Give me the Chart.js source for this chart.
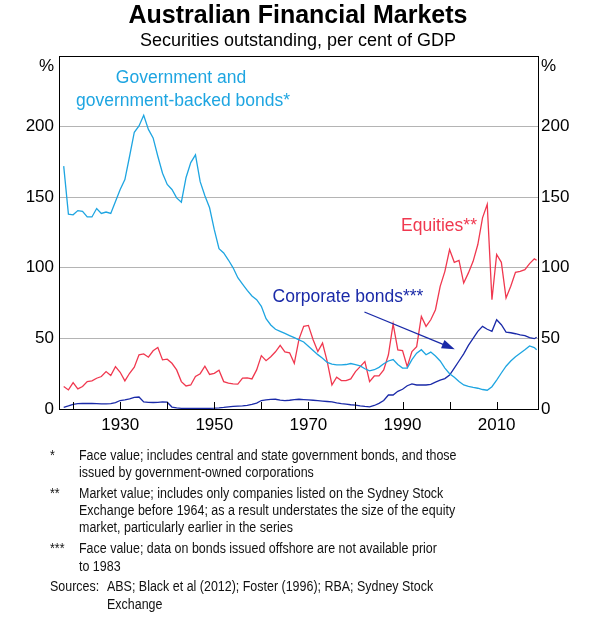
<!DOCTYPE html>
<html>
<head>
<meta charset="utf-8">
<script src="https://cdn.jsdelivr.net/npm/chart.js@4"></script>
<style>
  html, body { margin: 0; padding: 0; background: #fff; }
  #wrap { width: 600px; height: 617px; }
</style>
</head>
<body>
<div id="wrap"><canvas id="chartMercados" width="600" height="617"></canvas></div>
<script>
// Anos (último ponto é parcial)
const anos = [
  1918, 1919,
  1920, 1921, 1922, 1923, 1924, 1925, 1926, 1927, 1928, 1929,
  1930, 1931, 1932, 1933, 1934, 1935, 1936, 1937, 1938, 1939,
  1940, 1941, 1942, 1943, 1944, 1945, 1946, 1947, 1948, 1949,
  1950, 1951, 1952, 1953, 1954, 1955, 1956, 1957, 1958, 1959,
  1960, 1961, 1962, 1963, 1964, 1965, 1966, 1967, 1968, 1969,
  1970, 1971, 1972, 1973, 1974, 1975, 1976, 1977, 1978, 1979,
  1980, 1981, 1982, 1983, 1984, 1985, 1986, 1987, 1988, 1989,
  1990, 1991, 1992, 1993, 1994, 1995, 1996, 1997, 1998, 1999,
  2000, 2001, 2002, 2003, 2004, 2005, 2006, 2007, 2008, 2009,
  2010, 2011, 2012, 2013, 2014, 2015, 2016, 2017, 2018, 2018.5
];

const titulosGoverno = [
  172, 138,
  137.5, 140.5, 140, 136, 136, 142, 138.5, 139.5, 138.5, 147,
  155.5, 162.5, 179, 196, 200.5, 208, 198, 192, 179, 167,
  159, 155.5, 149.5, 146.5, 164, 174.5, 180, 161, 151, 142.5,
  127, 113.5, 110.5, 105.5, 100, 93, 88.5, 84, 80, 77.4,
  72.7, 64, 59.5, 56.5, 55, 53.5, 52, 50.5, 49, 47.5,
  44.5, 41.5, 38.5, 36, 33, 31.8, 31.3, 31.3, 31.5, 32.2,
  31.5, 30.5, 28.5, 27, 27.8, 29.5, 32, 34, 35, 31.5,
  29, 29, 35, 39.5, 42, 38.4, 40.3, 37.5, 34, 29,
  25, 22.5, 19.5, 17, 16, 15.3, 14.7, 13.8, 13.3, 15.8,
  20.5, 25.5, 30.3, 34, 37, 39.5, 42, 44.7, 43.5, 42
];

const acoes = [
  15.9, 13.5,
  18.7, 14.2, 15.9, 19.4, 19.9, 21.8, 23, 26.5, 23.7, 30,
  26, 19.9, 25.3, 29.6, 38.4, 39, 36.7, 41.2, 43.5, 34.8,
  35.3, 32.4, 27.7, 19.4, 16.3, 17, 23, 25, 30.3, 24.5,
  25.3, 27.5, 19.4, 18.3, 17.8, 17.6, 21.8, 22, 21.3, 27.7,
  37.8, 34.2, 37, 40.5, 45, 40.5, 39.8, 32.4, 49.5, 58.5,
  59.2, 49, 40.7, 46.7, 33.6, 17, 22.5, 20.1, 20.1, 21.3,
  26.5, 30, 33.6, 19.4, 23.4, 23.4, 27.7, 38.4, 60.2, 41.9,
  41.4, 30, 40.7, 44.2, 65.6, 58.5, 63.2, 70.3, 86.9, 97.5,
  112.9, 103.9, 105.3, 89.2, 96.4, 104.6, 116.5, 135.4, 144.9, 77.4,
  109.4, 103.9, 78.6, 86.9, 96.8, 97.5, 98.7, 103, 106.3, 105.3
];

const titulosEmpresas = [
  1.2, 2.2,
  3.3, 3.8, 3.9, 4, 3.9, 3.8, 3.6, 3.6, 3.8, 4.5,
  6, 6.5, 7.2, 8.2, 8.5, 5, 4.7, 4.6, 4.7, 5,
  4.8, 1.4, 0.8, 0.5, 0.4, 0.4, 0.4, 0.4, 0.4, 0.5,
  0.6, 0.8, 1.1, 1.5, 1.8, 2, 2.2, 2.6, 3.2, 4.2,
  6, 6.4, 6.8, 6.9, 6.3, 6, 6.2, 6.6, 6.9, 6.7,
  6.5, 6.2, 5.9, 5.6, 5.3, 5, 4.3, 3.8, 3.4, 3,
  2.7, 2.2, 1.8, 1.5, 2.5, 4, 6, 9.9, 9.9, 12.5,
  14, 16.5, 17.8, 17, 17, 17, 17.5, 19, 20.5, 21.5,
  24, 29, 34, 39, 45, 50, 55, 58.5, 56.5, 55,
  63.2, 59.7, 54.5, 54, 53.3, 52.5, 52, 50.5, 49.8, 50.8
];

const ticksAnos = [1920, 1930, 1940, 1950, 1960, 1970, 1980, 1990, 2000, 2010];
const ticksPct = [0, 50, 100, 150, 200, 250];

const notas = [
  ['*', ['Face value; includes central and state government bonds, and those',
         'issued by government-owned corporations']],
  ['**', ['Market value; includes only companies listed on the Sydney Stock',
          'Exchange before 1964; as a result understates the size of the equity',
          'market, particularly earlier in the series']],
  ['***', ['Face value; data on bonds issued offshore are not available prior',
           'to 1983']]
];

const corGoverno = '#1ea5e1';
const corAcoes = '#f0384f';
const corEmpresas = '#1a2aa8';
const fonte = 'Arial, "Liberation Sans", sans-serif';

function pontos(valores) {
  return anos.map((a, i) => ({ x: a, y: valores[i] }));
}

// texto estreito (rodapé)
function textoEstreito(ctx, txt, x, y) {
  ctx.save();
  ctx.translate(x, y);
  ctx.scale(0.89, 1);
  ctx.fillText(txt, 0, 0);
  ctx.restore();
}

Chart.defaults.font.family = fonte;
Chart.defaults.color = '#000';

const extras = {
  id: 'extras',
  afterDraw(chart) {
    const ctx = chart.ctx;
    const a = chart.chartArea;
    const sx = chart.scales.x;
    const sy = chart.scales.y;
    ctx.save();

    // moldura
    ctx.strokeStyle = '#000';
    ctx.lineWidth = 1;
    ctx.strokeRect(a.left + 0.5, a.top + 0.5, a.right - a.left - 1, a.bottom - a.top);

    // marcas do eixo x (para dentro)
    ticksAnos.forEach(v => {
      const px = Math.round(sx.getPixelForValue(v)) + 0.5;
      ctx.beginPath();
      ctx.moveTo(px, a.bottom);
      ctx.lineTo(px, a.bottom - 7);
      ctx.stroke();
    });

    ctx.fillStyle = '#000';
    ctx.textBaseline = 'middle';
    ctx.font = '17px ' + fonte;
    ctx.textAlign = 'right';
    ctx.fillText('%', a.left - 5, 66);
    ctx.textAlign = 'left';
    ctx.fillText('%', a.right + 2, 66);

    // títulos
    ctx.textAlign = 'center';
    ctx.font = 'bold 25px ' + fonte;
    ctx.fillText('Australian Financial Markets', 298, 16);
    ctx.font = '18px ' + fonte;
    ctx.fillText('Securities outstanding, per cent of GDP', 298, 41);

    // rótulos das séries
    ctx.font = '17.5px ' + fonte;
    ctx.fillStyle = corGoverno;
    ctx.fillText('Government and', 181, 78);
    ctx.fillText('government-backed bonds*', 183, 101);
    ctx.fillStyle = corAcoes;
    ctx.fillText('Equities**', 439, 226);
    ctx.fillStyle = corEmpresas;
    ctx.fillText('Corporate bonds***', 348, 297);

    // seta
    const x0 = sx.getPixelForValue(1981.9), y0 = sy.getPixelForValue(68.7);
    const x1 = sx.getPixelForValue(2001.1), y1 = sy.getPixelForValue(42.4);
    const ang = Math.atan2(y1 - y0, x1 - x0);
    ctx.strokeStyle = corEmpresas;
    ctx.lineWidth = 1.3;
    ctx.beginPath();
    ctx.moveTo(x0, y0);
    ctx.lineTo(x1 - 10 * Math.cos(ang), y1 - 10 * Math.sin(ang));
    ctx.stroke();
    ctx.beginPath();
    ctx.moveTo(x1, y1);
    ctx.lineTo(x1 - 13 * Math.cos(ang) + 4.5 * Math.sin(ang), y1 - 13 * Math.sin(ang) - 4.5 * Math.cos(ang));
    ctx.lineTo(x1 - 13 * Math.cos(ang) - 4.5 * Math.sin(ang), y1 - 13 * Math.sin(ang) + 4.5 * Math.cos(ang));
    ctx.closePath();
    ctx.fillStyle = corEmpresas;
    ctx.fill();

    // notas de rodapé
    ctx.fillStyle = '#111';
    ctx.textAlign = 'left';
    ctx.font = '14px ' + fonte;
    let y = 456;
    notas.forEach(([marca, linhas]) => {
      textoEstreito(ctx, marca, 50, y);
      linhas.forEach(l => { textoEstreito(ctx, l, 79, y); y += 17.2; });
      y += 3.8;
    });
    textoEstreito(ctx, 'Sources:', 50, 587);
    textoEstreito(ctx, 'ABS; Black et al (2012); Foster (1996); RBA; Sydney Stock', 107, 587);
    textoEstreito(ctx, 'Exchange', 107, 605);

    ctx.restore();
  }
};

const eixoY = (pos, largura) => ({
  type: 'linear',
  position: pos,
  min: 0,
  max: 250,
  afterBuildTicks: s => { s.ticks = ticksPct.map(v => ({ value: v })); },
  afterFit: s => { s.width = largura; },
  ticks: {
    font: { size: 17 },
    color: '#000',
    padding: pos === 'left' ? 5 : 2,
    callback: v => (v === 250 ? '' : v)
  },
  grid: {
    display: pos === 'left',
    drawTicks: false,
    color: c => (c.tick && (c.tick.value === 0 || c.tick.value === 250)) ? 'rgba(0,0,0,0)' : '#b4b4b4',
    lineWidth: 1
  },
  border: { display: false }
});

new Chart(document.getElementById('chartMercados'), {
  type: 'line',
  data: {
    datasets: [
      { label: 'Government and government-backed bonds', data: pontos(titulosGoverno), borderColor: corGoverno, borderWidth: 1.3, pointRadius: 0, tension: 0 },
      { label: 'Equities', data: pontos(acoes), borderColor: corAcoes, borderWidth: 1.3, pointRadius: 0, tension: 0 },
      { label: 'Corporate bonds', data: pontos(titulosEmpresas), borderColor: corEmpresas, borderWidth: 1.3, pointRadius: 0, tension: 0 }
    ]
  },
  options: {
    responsive: false,
    animation: false,
    devicePixelRatio: 1,
    layout: { padding: { top: 56, bottom: 178, left: 0, right: 0 } },
    scales: {
      x: {
        type: 'linear',
        min: 1917,
        max: 2019,
        afterBuildTicks: s => { s.ticks = ticksAnos.map(v => ({ value: v })); },
        afterFit: s => { s.height = 30; },
        ticks: {
          autoSkip: false,
          maxRotation: 0,
          font: { size: 17 },
          color: '#000',
          padding: 6,
          callback: v => (v % 20 === 10 ? String(v) : '')
        },
        grid: { display: false, drawTicks: false },
        border: { display: false }
      },
      y: eixoY('left', 59),
      y2: eixoY('right', 61)
    },
    plugins: {
      legend: { display: false },
      tooltip: { enabled: false }
    }
  },
  plugins: [extras]
});
</script>
</body>
</html>
